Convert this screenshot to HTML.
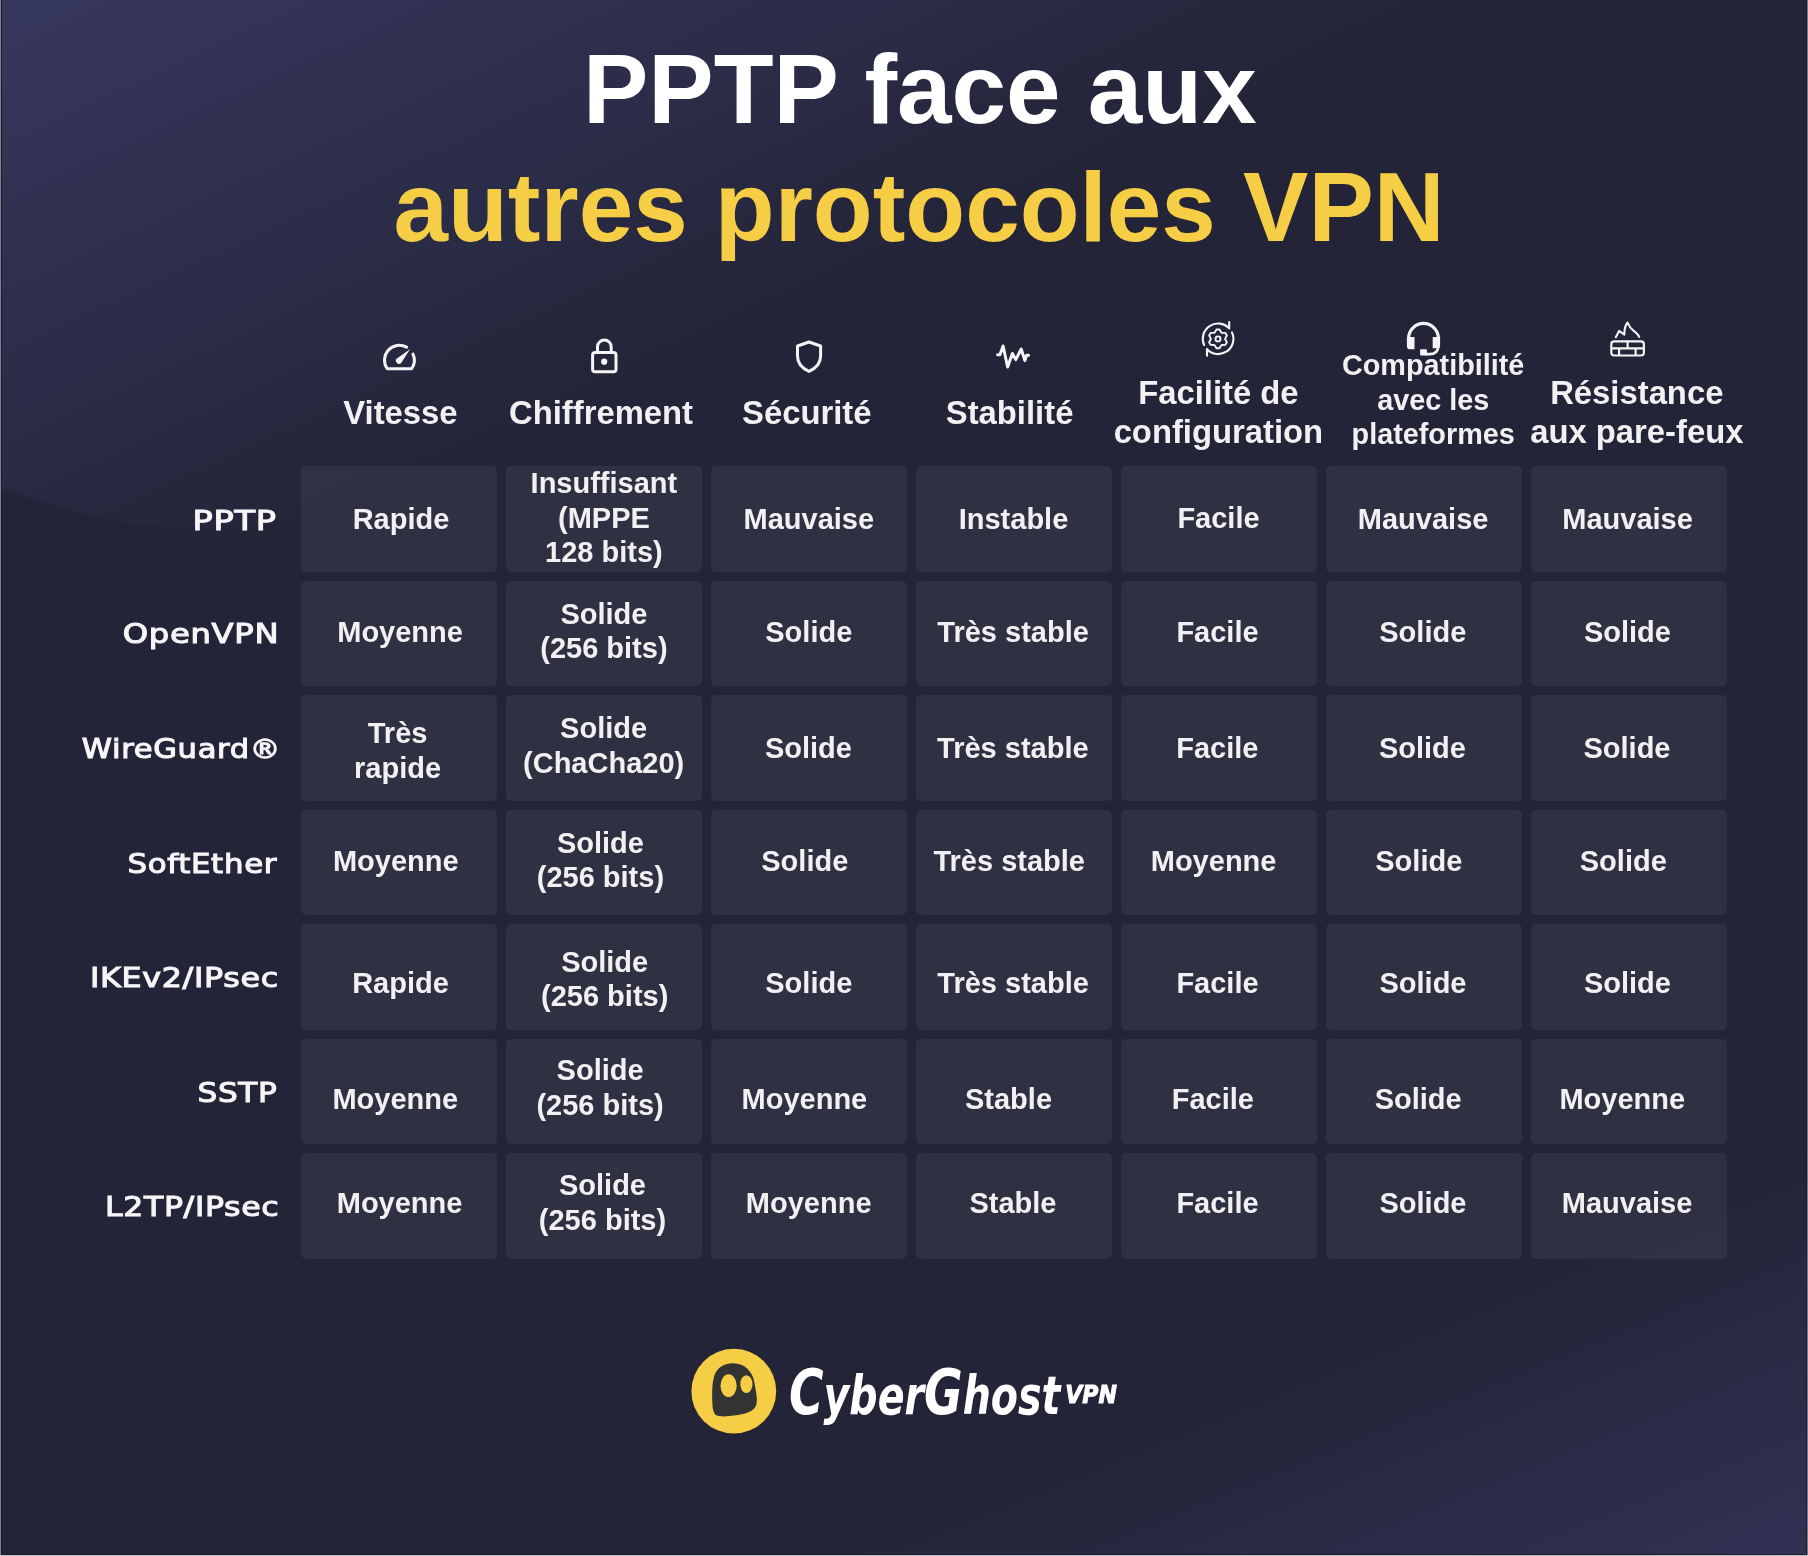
<!DOCTYPE html>
<html lang="fr">
<head>
<meta charset="utf-8">
<title>PPTP face aux autres protocoles VPN</title>
<style>
html,body{margin:0;padding:0;}
body{width:1808px;height:1556px;overflow:hidden;position:relative;background:#232437;font-family:"Liberation Sans",Arial,sans-serif;}
svg.full{position:absolute;left:0;top:0;width:1808px;height:1556px;}
.t{position:absolute;white-space:nowrap;font-weight:bold;}
.aa{will-change:transform;}
.title{font-size:98px;line-height:1;}
.hd{position:absolute;width:300px;color:#f1f1f3;font-weight:bold;font-size:32.8px;line-height:39px;text-align:center;white-space:nowrap;}
.hd.sm{font-size:28.8px;line-height:34.5px;}
.lbl{position:absolute;right:1531px;color:#f6f6f8;font-family:"DejaVu Sans",sans-serif;font-weight:normal;font-size:27px;letter-spacing:0.6px;-webkit-text-stroke:1.1px #f6f6f8;line-height:28px;white-space:nowrap;text-align:right;}
.cell{position:absolute;width:196.0px;height:105.6px;border-radius:5px;background:rgba(255,255,255,0.053);}
.ct{position:absolute;color:#f1f1f3;font-weight:bold;font-size:29px;line-height:34.4px;text-align:center;white-space:nowrap;}
.logo{position:absolute;color:#ffffff;white-space:nowrap;line-height:1;}
</style>
</head>
<body><div class="aa" style="position:absolute;left:0;top:0;width:1808px;height:1556px">
<svg class="full" width="1808" height="1556" viewBox="0 0 1808 1556">
  <defs>
    <linearGradient id="gtl" gradientUnits="userSpaceOnUse" x1="0" y1="0" x2="266" y2="572">
      <stop offset="0" stop-color="#37385e"/>
      <stop offset="1" stop-color="#232437"/>
    </linearGradient>
    <linearGradient id="gbr" gradientUnits="userSpaceOnUse" x1="1664" y1="1204" x2="1808" y2="1556">
      <stop offset="0" stop-color="#232437"/>
      <stop offset="1" stop-color="#313254"/>
    </linearGradient>
  </defs>
  <rect width="1808" height="1556" fill="#232437"/>
  <rect x="0" y="0" width="1808" height="1556" fill="url(#gbr)" opacity="1"/>
  <path d="M0,0 H1808 V0 L1300,200 Q700,420 330,522 Q200,533 120,522 Q60,510 0,488 Z" fill="url(#gtl)"/>
  <rect x="1" y="0" width="1" height="1555" fill="#1b1c30"/>
  <rect x="1806" y="0" width="1" height="1555" fill="#1b1c30"/>
  <rect x="0" y="1554" width="1808" height="1" fill="#1b1c30"/>
  <rect x="0" y="0" width="1" height="1556" fill="#7e7e8c"/>
  <rect x="1807" y="0" width="1" height="1556" fill="#7b7b88"/>
  <rect x="0" y="1555" width="1808" height="1" fill="#c3c3c8"/>
</svg>

<div class="t title" style="left:583px;top:40px;color:#ffffff;">PPTP face aux</div>
<div class="t title" style="left:393.5px;top:158px;color:#f6ce46;">autres protocoles VPN</div>

<div class="hd" style="left:250.4px;top:393.0px">Vitesse</div>
<div class="hd" style="left:451.0px;top:393.0px">Chiffrement</div>
<div class="hd" style="left:656.8px;top:393.0px">Sécurité</div>
<div class="hd" style="left:859.6px;top:393.0px">Stabilité</div>
<div class="hd" style="left:1068.4px;top:373.0px">Facilité de<br>configuration</div>
<div class="hd sm" style="left:1283.2px;top:348.0px">Compatibilité<br>avec les<br>plateformes</div>
<div class="hd" style="left:1486.8px;top:373.0px">Résistance<br>aux pare-feux</div>

<div class="lbl" style="top:506.8px;right:1531.2px"><span style="display:inline-block;transform:scaleX(1.245);transform-origin:100% 50%">PPTP</span></div>
<div class="cell" style="left:301.4px;top:466.4px"><div class="ct" style="top:35.6px;left:1.6px;right:-1.6px">Rapide</div></div>
<div class="cell" style="left:506.3px;top:466.4px"><div class="ct" style="top:-0.3px;left:-0.4px;right:0.4px">Insuffisant<br>(MPPE<br>128 bits)</div></div>
<div class="cell" style="left:711.1px;top:466.4px"><div class="ct" style="top:35.6px;left:-0.3px;right:0.3px">Mauvaise</div></div>
<div class="cell" style="left:916.0px;top:466.4px"><div class="ct" style="top:35.6px;left:-0.5px;right:0.5px">Instable</div></div>
<div class="cell" style="left:1120.9px;top:466.4px"><div class="ct" style="top:34.3px;left:-0.4px;right:0.4px">Facile</div></div>
<div class="cell" style="left:1325.8px;top:466.4px"><div class="ct" style="top:35.6px;left:-0.7px;right:0.7px">Mauvaise</div></div>
<div class="cell" style="left:1530.6px;top:466.4px"><div class="ct" style="top:35.6px;left:-1.0px;right:1.0px">Mauvaise</div></div>
<div class="lbl" style="top:620.3px;right:1528.8px"><span style="display:inline-block;transform:scaleX(1.193);transform-origin:100% 50%">OpenVPN</span></div>
<div class="cell" style="left:301.4px;top:580.8px"><div class="ct" style="top:34.6px;left:0.7px;right:-0.7px">Moyenne</div></div>
<div class="cell" style="left:506.3px;top:580.8px"><div class="ct" style="top:16.1px;left:-0.4px;right:0.4px">Solide<br>(256 bits)</div></div>
<div class="cell" style="left:711.1px;top:580.8px"><div class="ct" style="top:34.6px;left:-0.3px;right:0.3px">Solide</div></div>
<div class="cell" style="left:916.0px;top:580.8px"><div class="ct" style="top:34.6px;left:-0.9px;right:0.9px">Très stable</div></div>
<div class="cell" style="left:1120.9px;top:580.8px"><div class="ct" style="top:34.6px;left:-1.4px;right:1.4px">Facile</div></div>
<div class="cell" style="left:1325.8px;top:580.8px"><div class="ct" style="top:34.6px;left:-1.0px;right:1.0px">Solide</div></div>
<div class="cell" style="left:1530.6px;top:580.8px"><div class="ct" style="top:34.6px;left:-1.2px;right:1.2px">Solide</div></div>
<div class="lbl" style="top:735.1px;right:1527.2px"><span style="display:inline-block;transform:scaleX(1.132);transform-origin:100% 50%">WireGuard®</span></div>
<div class="cell" style="left:301.4px;top:695.3px"><div class="ct" style="top:20.9px;left:-1.8px;right:1.8px">Très<br>rapide</div></div>
<div class="cell" style="left:506.3px;top:695.3px"><div class="ct" style="top:15.8px;left:-0.7px;right:0.7px">Solide<br>(ChaCha20)</div></div>
<div class="cell" style="left:711.1px;top:695.3px"><div class="ct" style="top:35.6px;left:-0.7px;right:0.7px">Solide</div></div>
<div class="cell" style="left:916.0px;top:695.3px"><div class="ct" style="top:35.6px;left:-1.2px;right:1.2px">Très stable</div></div>
<div class="cell" style="left:1120.9px;top:695.3px"><div class="ct" style="top:35.6px;left:-1.6px;right:1.6px">Facile</div></div>
<div class="cell" style="left:1325.8px;top:695.3px"><div class="ct" style="top:35.6px;left:-1.4px;right:1.4px">Solide</div></div>
<div class="cell" style="left:1530.6px;top:695.3px"><div class="ct" style="top:35.6px;left:-1.6px;right:1.6px">Solide</div></div>
<div class="lbl" style="top:849.9px;right:1531.1px"><span style="display:inline-block;transform:scaleX(1.142);transform-origin:100% 50%">SoftEther</span></div>
<div class="cell" style="left:301.4px;top:809.7px"><div class="ct" style="top:34.6px;left:-3.6px;right:3.6px">Moyenne</div></div>
<div class="cell" style="left:506.3px;top:809.7px"><div class="ct" style="top:15.9px;left:-3.9px;right:3.9px">Solide<br>(256 bits)</div></div>
<div class="cell" style="left:711.1px;top:809.7px"><div class="ct" style="top:34.6px;left:-4.3px;right:4.3px">Solide</div></div>
<div class="cell" style="left:916.0px;top:809.7px"><div class="ct" style="top:34.6px;left:-4.8px;right:4.8px">Très stable</div></div>
<div class="cell" style="left:1120.9px;top:809.7px"><div class="ct" style="top:34.6px;left:-5.3px;right:5.3px">Moyenne</div></div>
<div class="cell" style="left:1325.8px;top:809.7px"><div class="ct" style="top:34.6px;left:-5.0px;right:5.0px">Solide</div></div>
<div class="cell" style="left:1530.6px;top:809.7px"><div class="ct" style="top:34.6px;left:-5.3px;right:5.3px">Solide</div></div>
<div class="lbl" style="top:963.5px;right:1528.8px"><span style="display:inline-block;transform:scaleX(1.174);transform-origin:100% 50%">IKEv2/IPsec</span></div>
<div class="cell" style="left:301.4px;top:924.1px"><div class="ct" style="top:42.1px;left:1.1px;right:-1.1px">Rapide</div></div>
<div class="cell" style="left:506.3px;top:924.1px"><div class="ct" style="top:20.6px;left:0.4px;right:-0.4px">Solide<br>(256 bits)</div></div>
<div class="cell" style="left:711.1px;top:924.1px"><div class="ct" style="top:42.1px;left:-0.3px;right:0.3px">Solide</div></div>
<div class="cell" style="left:916.0px;top:924.1px"><div class="ct" style="top:42.1px;left:-0.9px;right:0.9px">Très stable</div></div>
<div class="cell" style="left:1120.9px;top:924.1px"><div class="ct" style="top:42.1px;left:-1.4px;right:1.4px">Facile</div></div>
<div class="cell" style="left:1325.8px;top:924.1px"><div class="ct" style="top:42.1px;left:-0.8px;right:0.8px">Solide</div></div>
<div class="cell" style="left:1530.6px;top:924.1px"><div class="ct" style="top:42.1px;left:-1.2px;right:1.2px">Solide</div></div>
<div class="lbl" style="top:1078.6px;right:1530.5px"><span style="display:inline-block;transform:scaleX(1.151);transform-origin:100% 50%">SSTP</span></div>
<div class="cell" style="left:301.4px;top:1038.6px"><div class="ct" style="top:43.2px;left:-4.1px;right:4.1px">Moyenne</div></div>
<div class="cell" style="left:506.3px;top:1038.6px"><div class="ct" style="top:14.5px;left:-4.2px;right:4.2px">Solide<br>(256 bits)</div></div>
<div class="cell" style="left:711.1px;top:1038.6px"><div class="ct" style="top:43.2px;left:-4.7px;right:4.7px">Moyenne</div></div>
<div class="cell" style="left:916.0px;top:1038.6px"><div class="ct" style="top:43.2px;left:-5.5px;right:5.5px">Stable</div></div>
<div class="cell" style="left:1120.9px;top:1038.6px"><div class="ct" style="top:43.2px;left:-6.0px;right:6.0px">Facile</div></div>
<div class="cell" style="left:1325.8px;top:1038.6px"><div class="ct" style="top:43.2px;left:-5.6px;right:5.6px">Solide</div></div>
<div class="cell" style="left:1530.6px;top:1038.6px"><div class="ct" style="top:43.2px;left:-6.3px;right:6.3px">Moyenne</div></div>
<div class="lbl" style="top:1193.1px;right:1528.8px"><span style="display:inline-block;transform:scaleX(1.168);transform-origin:100% 50%">L2TP/IPsec</span></div>
<div class="cell" style="left:301.4px;top:1153.0px"><div class="ct" style="top:33.1px;left:0.2px;right:-0.2px">Moyenne</div></div>
<div class="cell" style="left:506.3px;top:1153.0px"><div class="ct" style="top:15.1px;left:-1.8px;right:1.8px">Solide<br>(256 bits)</div></div>
<div class="cell" style="left:711.1px;top:1153.0px"><div class="ct" style="top:33.1px;left:-0.4px;right:0.4px">Moyenne</div></div>
<div class="cell" style="left:916.0px;top:1153.0px"><div class="ct" style="top:33.1px;left:-1.1px;right:1.1px">Stable</div></div>
<div class="cell" style="left:1120.9px;top:1153.0px"><div class="ct" style="top:33.1px;left:-1.4px;right:1.4px">Facile</div></div>
<div class="cell" style="left:1325.8px;top:1153.0px"><div class="ct" style="top:33.1px;left:-0.8px;right:0.8px">Solide</div></div>
<div class="cell" style="left:1530.6px;top:1153.0px"><div class="ct" style="top:33.1px;left:-1.5px;right:1.5px">Mauvaise</div></div>

<svg class="full" width="1808" height="1556" viewBox="0 0 1808 1556">
<path d="M413.01,354.04 A14.9,14.9 0 0 1 411.57,368.70 L387.23,368.70 A14.9,14.9 0 0 1 406.62,347.07" fill="none" stroke="#f4f4f6" stroke-width="3" stroke-linecap="round" stroke-linejoin="round"/>
<path d="M410.0,349.2 L401.34,362.74 A3.1,3.1 0 1 1 396.86,358.46 Z" fill="#f4f4f6"/>
<rect x="592.6" y="352.6" width="23.4" height="19.2" rx="2.6" fill="none" stroke="#f4f4f6" stroke-width="3"/>
<path d="M597.5,352.6 V346.9 A6.85,6.85 0 0 1 611.2,346.9 V352.6" fill="none" stroke="#f4f4f6" stroke-width="3"/>
<circle cx="604.2" cy="361.7" r="3.1" fill="#f4f4f6"/>
<path d="M809,342 L820.6,346 V356 C820.6,363 815.5,368.5 809,371.4 C802.5,368.5 797.5,363 797.5,356 V346 Z" fill="none" stroke="#f4f4f6" stroke-width="3" stroke-linejoin="round"/>
<polyline points="997.6,354.8 999.9,354.8 1003.1,346.0 1007.6,367.0 1012.4,353.5 1015.8,359.6 1021.2,349.0 1024.9,360.6 1026.6,355.2 1028.6,355.2" fill="none" stroke="#f4f4f6" stroke-width="3" stroke-linecap="round" stroke-linejoin="round"/>
<path d="M1204.12,345.02 A15.3,15.3 0 0 1 1229.20,328.27" fill="none" stroke="#f4f4f6" stroke-width="2.1" stroke-linecap="round"/>
<path d="M1229.20,321.97 L1229.20,328.27" fill="none" stroke="#f4f4f6" stroke-width="2.1" stroke-linecap="round" stroke-linejoin="round"/>
<path d="M1231.97,332.33 A15.3,15.3 0 0 1 1207.00,349.33" fill="none" stroke="#f4f4f6" stroke-width="2.1" stroke-linecap="round"/>
<path d="M1207.00,355.63 L1207.00,349.33" fill="none" stroke="#f4f4f6" stroke-width="2.1" stroke-linecap="round" stroke-linejoin="round"/>
<path d="M1214.66,332.52 L1216.51,329.52 L1219.49,329.52 L1221.34,332.52 L1221.86,332.82 L1225.38,332.92 L1226.87,335.50 L1225.19,338.60 L1225.19,339.20 L1226.87,342.30 L1225.38,344.88 L1221.86,344.98 L1221.34,345.28 L1219.49,348.28 L1216.51,348.28 L1214.66,345.28 L1214.14,344.98 L1210.62,344.88 L1209.13,342.30 L1210.81,339.20 L1210.81,338.60 L1209.13,335.50 L1210.62,332.92 L1214.14,332.82 Z" fill="none" stroke="#f4f4f6" stroke-width="1.9" stroke-linejoin="round"/>
<circle cx="1218.0" cy="338.9" r="2.5" fill="none" stroke="#f4f4f6" stroke-width="1.9"/>
<path d="M1408.6,339.3 V338.3 A14.9,14.9 0 0 1 1438.4,338.3 V339.3" fill="none" stroke="#f4f4f6" stroke-width="3.2"/>
<path d="M1406.9,337 H1414.5 V349.3 H1410 A3.1,3.1 0 0 1 1406.9,346.2 Z" fill="#f4f4f6"/>
<path d="M1432.7,337 H1440.1 V345.2 A3,3 0 0 1 1437.1,348.2 H1432.7 Z" fill="#f4f4f6"/>
<path d="M1438.4,346.5 C1438,351.5 1435,354.2 1429.5,354.2 H1425" fill="none" stroke="#f4f4f6" stroke-width="2.8"/>
<rect x="1420.1" y="349.3" width="6.8" height="6.2" rx="0.8" fill="#f4f4f6"/>
<rect x="1611.3" y="341.3" width="32.6" height="14.2" rx="3" fill="none" stroke="#f4f4f6" stroke-width="2.2"/>
<path d="M1611.3,348.3 H1643.9 M1627.6,341.3 V348.3 M1619.1,348.3 V355.5 M1635.6,348.3 V355.5" fill="none" stroke="#f4f4f6" stroke-width="2.2"/>
<path d="M1615.8,337.2 L1619.1,330.9 L1624.3,334.6 C1624.3,330 1625,325.5 1627.5,322.5 C1629,326.5 1631,329 1634,331.2 C1637,333.5 1638.6,335 1639.2,337" fill="none" stroke="#f4f4f6" stroke-width="2.1" stroke-linecap="round" stroke-linejoin="round"/>
<circle cx="733.8" cy="1391.2" r="42.4" fill="#f6ce46"/>
<path d="M733,1363.3 C745,1363.3 753,1372 754.5,1383 C756,1392 757.5,1398 756.6,1403.5 C755.5,1410.5 748,1413.5 738,1415 C728,1416.5 720,1417 716.8,1415.6 C713,1413.5 712.3,1408 712.2,1398 C712.1,1388 712.6,1380 715,1374 C718,1367 725,1363.3 733,1363.3 Z" fill="#333333"/>
<ellipse cx="728.6" cy="1385.7" rx="8.1" ry="11.4" fill="#f6ce46"/>
<ellipse cx="746.4" cy="1384.1" rx="6.1" ry="8.9" fill="#f6ce46"/>
</svg>
<div class="logo" style="left:788.5px;top:1361px;font-family:'DejaVu Sans Condensed','DejaVu Sans',sans-serif;font-style:italic;font-weight:bold;font-size:53px;letter-spacing:0px;transform:scaleX(0.83);transform-origin:0 0;"><span style="font-size:63px">C</span>yber<span style="font-size:63px">G</span>host</div>
<div class="logo" style="left:1065.2px;top:1383px;font-family:'DejaVu Sans Condensed','DejaVu Sans',sans-serif;font-style:italic;font-weight:bold;font-size:24.5px;-webkit-text-stroke:0.9px #fff;transform:scaleX(1.0);transform-origin:0 0;">VPN</div>
</div></body>
</html>
